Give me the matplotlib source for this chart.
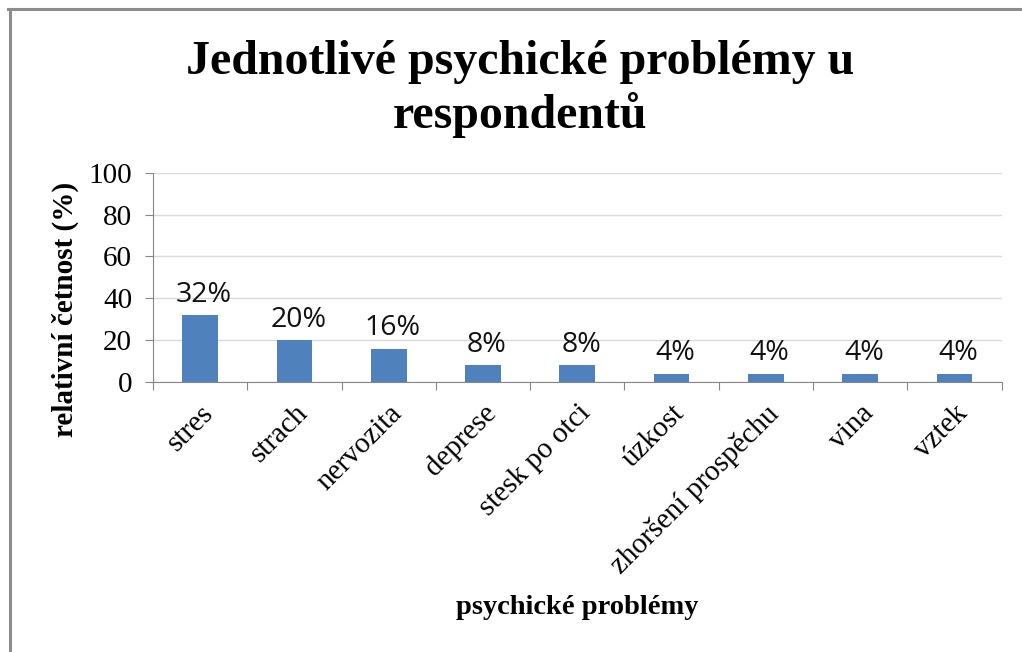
import numpy as np
import matplotlib.pyplot as plt
from matplotlib.lines import Line2D

categories = ['stres', 'strach', 'nervozita', 'deprese', 'stesk po otci',
              'úzkost', 'zhoršení prospěchu', 'vina', 'vztek']
values = [32, 20, 16, 8, 8, 4, 4, 4, 4]
yticks = [0, 20, 40, 60, 80, 100]

serif = ['Liberation Serif', 'DejaVu Serif']
sans = ['Open Sans', 'DejaVu Sans']

fig = plt.figure(figsize=(10.22, 6.52), dpi=100)
ax = fig.add_axes([0.1497, 0.414, 0.8303, 0.321])

x = np.arange(len(categories))
bars = ax.bar(x, values, width=0.38, color='#4f81bd', zorder=3)

for xi, v in zip(x, values):
    ax.text(xi + 0.04, v + 3, f'{v}%', ha='center', va='bottom',
            fontsize=20.5, family=sans, color='#111111')

ax.set_xlim(-0.5, len(categories) - 0.5)
ax.set_ylim(0, 100)
ax.set_yticks(yticks)
ax.set_yticklabels([str(t) for t in yticks], family=serif, fontsize=21)
ax.yaxis.grid(True, color='#d9d9d9', linewidth=1, zorder=0)

# ticks on the x axis sit between the categories
ax.set_xticks(np.arange(len(categories) + 1) - 0.5)
ax.set_xticklabels([])
ax.set_xticks(x, minor=True)
ax.set_xticklabels(categories, minor=True, rotation=45, ha='right',
                   rotation_mode='anchor', family=serif, fontsize=21)
ax.tick_params(axis='x', which='minor', length=0, pad=13)
ax.tick_params(axis='x', which='major', length=6, color='#868686', direction='out')
ax.tick_params(axis='y', length=6, color='#868686', direction='out', pad=9)

for side in ['top', 'right']:
    ax.spines[side].set_visible(False)
for side in ['left', 'bottom']:
    ax.spines[side].set_color('#868686')

fig.text(0.509, 0.905, 'Jednotlivé psychické problémy u', ha='center', va='center',
         family=serif, fontsize=34.5, fontweight='bold')
fig.text(0.509, 0.823, 'respondentů', ha='center', va='center',
         family=serif, fontsize=34.5, fontweight='bold')
fig.text(0.565, 0.068, 'psychické problémy', ha='center', va='center',
         family=serif, fontsize=20.5, fontweight='bold')
fig.text(0.064, 0.525, 'relativní četnost (%)', ha='center', va='center',
         rotation=90, family=serif, fontsize=21, fontweight='bold')

# frame around the chart area (only left and top edges show)
fig.add_artist(Line2D([0.0093, 0.0093], [0, 0.9855], transform=fig.transFigure,
                      color='#8c8c8c', linewidth=2.2))
fig.add_artist(Line2D([0.0083, 1.0], [0.9855, 0.9855], transform=fig.transFigure,
                      color='#8c8c8c', linewidth=2.2))

fig.savefig('out.png', dpi=100)
